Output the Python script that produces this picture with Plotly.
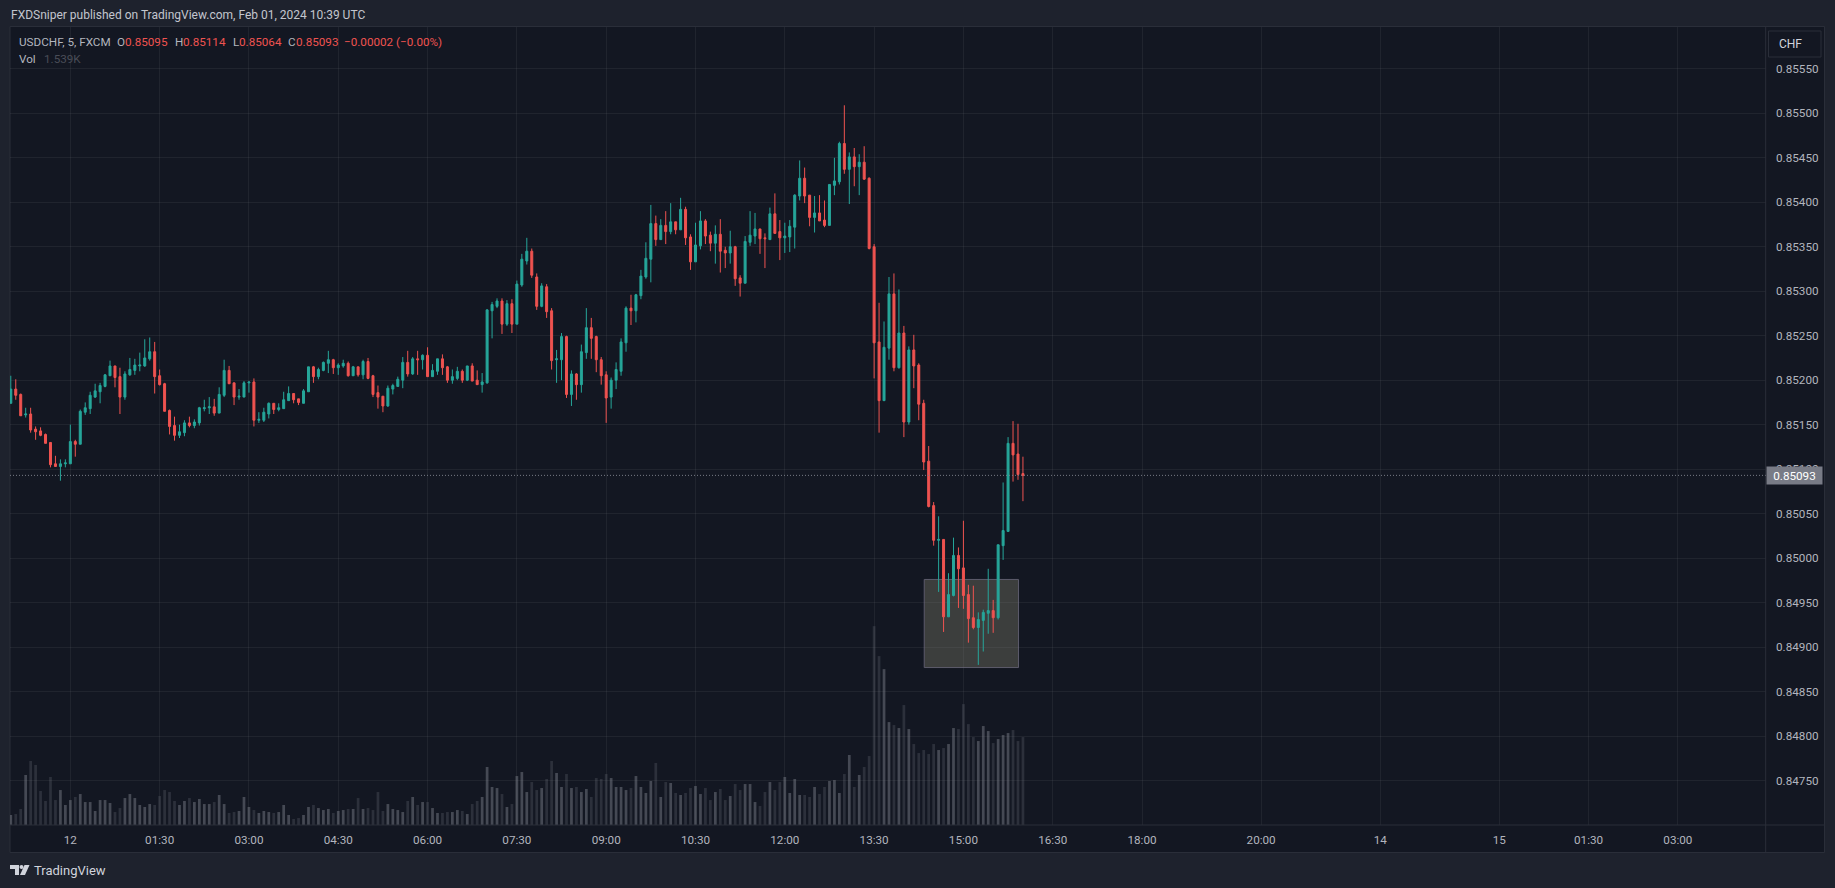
import plotly.graph_objects as go

WIDTH, HEIGHT = 1835, 888

# prices in points (1e-5), one bar every 5 minutes
opens = [
    85174,85190,85184,85161,85162,85145,85143,85139,85130,85106,
    85103,85106,85106,85131,85128,85164,85168,85181,85187,85193,
    85205,85216,85204,85181,85206,85211,85216,85216,85224,85232,
    85205,85196,85166,85149,85138,85141,85152,85149,85152,85168,
    85169,85170,85163,85183,85211,85197,85181,85181,85197,85198,
    85155,85155,85162,85174,85167,85168,85177,85185,85179,85174,
    85187,85215,85204,85211,85219,85223,85214,85216,85219,85205,
    85215,85206,85221,85205,85186,85182,85171,85190,85193,85200,
    85220,85207,85224,85223,85228,85204,85210,85224,85215,85200,
    85202,85210,85200,85216,85200,85195,85197,85278,85283,85289,
    85263,85286,85263,85307,85334,85345,85316,85283,85305,85278,
    85223,85223,85249,85184,85207,85195,85231,85259,85249,85223,
    85206,85181,85200,85210,85242,85281,85278,85295,85316,85336,
    85376,85358,85374,85367,85378,85369,85392,85361,85333,85351,
    85379,85363,85354,85364,85346,85343,85350,85315,85309,85355,
    85362,85370,85360,85358,85387,85367,85360,85361,85372,85407,
    85427,85408,85383,85388,85380,85374,85419,85423,85466,85437,
    85451,85440,85445,85427,85350,85243,85177,85236,85297,85214,
    85253,85153,85234,85217,85174,85109,85059,85020,85021,84934,
    84958,85003,84989,84959,84933,84922,84930,84938,84941,84933,
    85014,85030,85129,85117,85095,
]
highs = [
    85205,85201,85185,85169,85169,85148,85147,85140,85130,85115,
    85111,85111,85150,85133,85167,85175,85187,85196,85197,85207,
    85222,85216,85214,85210,85225,85224,85231,85246,85248,85243,
    85212,85197,85167,85159,85150,85155,85159,85156,85170,85178,
    85181,85179,85192,85223,85216,85197,85190,85199,85198,85202,
    85164,85169,85175,85174,85174,85187,85193,85185,85179,85190,
    85215,85216,85214,85221,85233,85224,85219,85223,85221,85216,
    85215,85223,85225,85206,85194,85182,85194,85196,85204,85226,
    85233,85226,85233,85229,85237,85218,85224,85229,85216,85212,
    85215,85212,85216,85219,85211,85208,85280,85288,85292,85292,
    85290,85291,85312,85342,85360,85348,85320,85309,85308,85281,
    85234,85253,85250,85211,85208,85240,85281,85270,85250,85226,
    85210,85203,85220,85247,85283,85296,85297,85324,85355,85397,
    85385,85381,85390,85399,85378,85405,85395,85364,85377,85390,
    85381,85367,85374,85381,85350,85368,85351,85318,85362,85390,
    85388,85370,85365,85394,85410,85380,85377,85380,85409,85447,
    85439,85408,85407,85408,85402,85420,85450,85468,85509,85456,
    85461,85454,85463,85428,85353,85287,85266,85316,85320,85302,
    85261,85238,85251,85219,85178,85126,85063,85047,85021,84983,
    85023,85012,85042,84970,84969,84939,84942,84988,84953,85015,
    85085,85136,85154,85151,85114,
]
lows = [
    85174,85178,85160,85158,85141,85133,85137,85129,85102,85103,
    85087,85102,85106,85114,85128,85161,85162,85180,85174,85192,
    85205,85192,85162,85178,85205,85206,85210,85215,85222,85185,
    85194,85165,85139,85132,85135,85137,85147,85146,85149,85165,
    85162,85160,85163,85181,85196,85172,85178,85181,85186,85148,
    85152,85153,85157,85162,85165,85168,85177,85174,85172,85174,
    85187,85197,85201,85210,85208,85207,85206,85214,85204,85205,
    85204,85201,85201,85181,85168,85164,85170,85184,85193,85191,
    85204,85206,85206,85212,85204,85204,85206,85206,85197,85196,
    85200,85197,85199,85199,85195,85186,85196,85247,85281,85252,
    85261,85253,85263,85305,85330,85315,85279,85282,85270,85212,
    85197,85200,85180,85171,85178,85186,85224,85224,85209,85195,
    85152,85168,85190,85205,85232,85262,85265,85291,85314,85310,
    85351,85358,85353,85364,85364,85369,85352,85324,85333,85347,
    85353,85345,85331,85321,85326,85331,85306,85294,85309,85351,
    85353,85342,85326,85358,85365,85335,85343,85344,85348,85402,
    85399,85373,85366,85379,85372,85374,85408,85420,85432,85398,
    85418,85408,85425,85347,85202,85141,85177,85223,85210,85213,
    85136,85150,85191,85155,85099,85057,85014,84962,84917,84934,
    84957,84944,84943,84905,84920,84880,84895,84915,84916,84931,
    84998,85030,85086,85088,85064,
]
closes = [
    85190,85183,85160,85162,85144,85142,85138,85129,85105,85103,
    85106,85107,85131,85128,85165,85169,85183,85188,85194,85206,
    85216,85203,85181,85207,85212,85217,85217,85225,85232,85204,
    85195,85165,85148,85138,85142,85152,85149,85153,85169,85169,
    85170,85163,85184,85211,85196,85181,85182,85197,85198,85155,
    85156,85164,85174,85167,85169,85178,85185,85178,85175,85188,
    85215,85204,85212,85220,85223,85214,85217,85219,85205,85215,
    85206,85221,85202,85184,85181,85171,85191,85194,85201,85220,
    85207,85224,85223,85228,85204,85211,85224,85214,85200,85204,
    85210,85200,85216,85199,85195,85198,85279,85285,85289,85263,
    85286,85263,85308,85336,85345,85318,85283,85306,85277,85222,
    85224,85249,85184,85207,85195,85232,85259,85247,85223,85205,
    85180,85200,85212,85243,85281,85278,85296,85317,85337,85376,
    85358,85374,85367,85378,85369,85392,85360,85333,85352,85379,
    85362,85354,85364,85345,85343,85350,85314,85309,85356,85363,
    85370,85359,85359,85387,85365,85360,85362,85373,85408,85427,
    85407,85383,85388,85379,85374,85420,85424,85466,85437,85451,
    85440,85445,85426,85348,85242,85177,85237,85297,85214,85253,
    85153,85234,85216,85173,85108,85058,85020,85021,84934,84959,
    85003,84988,84958,84932,84922,84931,84939,84941,84933,85015,
    85031,85129,85116,85094,85093,
]
volumes = [
    175,192,280,875,1120,1050,595,420,840,437,
    612,350,437,490,542,402,402,245,437,437,
    385,227,297,472,542,472,350,315,367,350,
    507,612,577,420,350,420,472,402,455,367,
    367,402,525,367,210,227,245,490,315,262,
    210,245,227,210,227,350,175,105,122,175,
    315,350,297,262,280,210,245,262,280,280,
    472,280,297,262,577,245,367,280,262,227,
    420,490,350,402,402,297,210,210,227,227,
    262,245,192,367,420,490,1015,665,647,542,
    315,367,857,927,577,752,612,647,805,1120,
    910,665,892,647,665,577,630,490,822,805,
    892,822,665,665,612,647,857,665,560,770,
    1085,490,752,735,560,525,560,647,682,542,
    647,437,577,630,437,507,717,612,717,717,
    402,332,577,752,612,752,840,560,805,525,
    525,490,665,542,665,770,787,560,892,1225,
    665,875,1015,1207,3480,2956,2728,1801,1749,1697,
    2099,1679,1417,1259,1312,1242,1417,1312,1347,1417,
    1697,1679,2116,1766,1539,1469,1732,1644,1434,1504,
    1574,1609,1662,1469,1539,
]
assert len(opens) == len(highs) == len(lows) == len(closes) == len(volumes)

# bar number of each label on the time scale
time_ticks = [12, 30, 48, 66, 84, 102, 120, 138, 156, 174, 192, 210, 228, 252, 276, 300, 318, 336]
time_labels = ["12", "01:30", "03:00", "04:30", "06:00", "07:30", "09:00", "10:30", "12:00",
               "13:30", "15:00", "16:30", "18:00", "20:00", "14", "15", "01:30", "03:00"]
price_ticks = [0.8475, 0.848, 0.8485, 0.849, 0.8495, 0.85, 0.8505, 0.851, 0.8515,
               0.852, 0.8525, 0.853, 0.8535, 0.854, 0.8545, 0.855, 0.8555]
price_labels = [f"{p:.5f}" for p in price_ticks]

# the drawn box: first/last bar, top/bottom price
box_bars = [184.1, 203.1]
box_prices = [0.84976, 0.84877]

UP, DOWN = "#26a69a", "#ef5350"
PANE = "#131722"
PAGE = "#1e222d"
BORDER = "#2a2e39"
GRID = "rgba(120,123,134,0.13)"
FONT = "Roboto"

legend_chunks = [
    (18, "USDCHF, 5, FXCM", "#b2b5be"),
    (116, "O", "#b2b5be"), (124, "0.85095", DOWN),
    (174, "H", "#b2b5be"), (182, "0.85114", DOWN),
    (232, "L", "#b2b5be"), (238, "0.85064", DOWN),
    (287, "C", "#b2b5be"), (295, "0.85093", DOWN),
    (343, "−0.00002 (−0.00%)", DOWN),
]


def px(x):
    return x / WIDTH


def py(y):
    return 1 - y / HEIGHT


def scaled(values):
    return [v / 100000 for v in values]


def paper_path(points):
    return "M" + " L".join(f"{px(x):.5f},{py(y):.5f}" for x, y in points) + " Z"


def label(x, y, text, color, size=11.7, xanchor="left"):
    return dict(xref="paper", yref="paper", x=px(x), y=py(y), text=text, showarrow=False,
                xanchor=xanchor, yanchor="middle", font=dict(family=FONT, size=size, color=color),
                borderpad=0)


bars = list(range(len(opens)))
last_price = closes[-1] / 100000

fig = go.Figure()
fig.add_trace(go.Candlestick(
    x=bars, open=scaled(opens), high=scaled(highs), low=scaled(lows), close=scaled(closes),
    increasing=dict(line=dict(color=UP, width=1), fillcolor=UP),
    decreasing=dict(line=dict(color=DOWN, width=1), fillcolor=DOWN),
    whiskerwidth=0, showlegend=False,
))
fig.add_trace(go.Bar(
    x=bars, y=volumes, yaxis="y2", showlegend=False,
    marker=dict(
        color=["rgba(120,123,134,0.5)" if c >= o else "rgba(120,123,134,0.25)"
               for o, c in zip(opens, closes)],
        line=dict(width=0),
    ),
))

shapes = [
    # chart frame, price scale and time scale
    dict(type="rect", xref="paper", yref="paper", x0=px(10), x1=px(1824.5), y0=py(852.5), y1=py(26.5),
         fillcolor=PANE, line=dict(color=BORDER, width=1), layer="below"),
    dict(type="line", xref="paper", yref="paper", x0=px(1765.7), x1=px(1765.7), y0=py(852.5), y1=py(26.5),
         line=dict(color=BORDER, width=1)),
    dict(type="line", xref="paper", yref="paper", x0=px(10), x1=px(1824.5), y0=py(825), y1=py(825),
         line=dict(color=BORDER, width=1)),
    # last price line
    dict(type="line", xref="x domain", yref="y", x0=0, x1=1, y0=last_price, y1=last_price,
         line=dict(color="#787b86", width=1, dash="1px,2px")),
    # rectangle drawing
    dict(type="rect", xref="x", yref="y", x0=box_bars[0], x1=box_bars[1], y0=box_prices[0], y1=box_prices[1],
         fillcolor="rgba(155,153,125,0.3)", line=dict(color="#5c5b6b", width=1), layer="below"),
    # CHF button
    dict(type="rect", xref="paper", yref="paper", x0=px(1768.5), x1=px(1821), y0=py(57), y1=py(31),
         fillcolor=PANE, line=dict(color=BORDER, width=1)),
    # TradingView logo
    dict(type="path", xref="paper", yref="paper", fillcolor="#d1d4dc", line=dict(width=0),
         path=paper_path([(10, 865), (19, 865), (19, 875), (15, 875), (15, 869), (10, 869)])),
    dict(type="path", xref="paper", yref="paper", fillcolor="#d1d4dc", line=dict(width=0),
         path=paper_path([(24.5, 865), (29.5, 865), (25, 875), (20, 875)])),
    dict(type="circle", xref="paper", yref="paper", x0=px(19.5), x1=px(23.5), y0=py(869), y1=py(865),
         fillcolor="#d1d4dc", line=dict(width=0)),
]

annotations = [
    label(10, 15, "FXDSniper published on TradingView.com, Feb 01, 2024 10:39 UTC", "#c3c6ce", 12),
    label(18, 59, "Vol", "#b2b5be"),
    label(42.5, 59, "1.539K", "#4a4d57"),
    label(1777.5, 44.5, "CHF", "#d1d4dc", 12),
    label(33, 870, "TradingView", "#d1d4dc", 13),
    dict(xref="paper", yref="y", x=px(1765.5), y=last_price, text=f"{last_price:.5f}", showarrow=False,
         xanchor="left", yanchor="middle", bgcolor="#787b86", width=55, height=17, borderpad=0,
         align="center", font=dict(family=FONT, size=11.7, color="#ffffff")),
]
for x, text, color in legend_chunks:
    annotations.append(label(x, 42, text, color))

fig.update_layout(
    width=WIDTH,
    height=HEIGHT,
    margin=dict(l=0, r=0, t=0, b=0),
    paper_bgcolor=PAGE,
    plot_bgcolor="rgba(0,0,0,0)",
    font=dict(family=FONT, size=11.7, color="#b2b5be"),
    boxgap=0.6,
    boxgroupgap=0,
    bargap=0.45,
    shapes=shapes,
    annotations=annotations,
    xaxis=dict(
        domain=[px(10), px(1765.7)],
        range=[-0.16, 353.7],
        rangeslider=dict(visible=False),
        tickmode="array",
        tickvals=time_ticks,
        ticktext=time_labels,
        showgrid=True,
        gridcolor=GRID,
        gridwidth=1,
        zeroline=False,
        ticks="outside",
        ticklen=4,
        tickcolor=PANE,
    ),
    yaxis=dict(
        domain=[py(825), py(27)],
        range=[0.84700, 0.85597],
        side="right",
        tickmode="array",
        tickvals=price_ticks,
        ticktext=price_labels,
        showgrid=True,
        gridcolor=GRID,
        gridwidth=1,
        zeroline=False,
        ticks="outside",
        ticklen=7,
        tickcolor=PANE,
    ),
    yaxis2=dict(
        domain=[py(825), py(27)],
        range=[0, 13965],
        overlaying="y",
        visible=False,
    ),
)

fig.write_html("out.html", config={"displayModeBar": False},
               post_script="document.body.style.margin='0';document.body.style.background='#1e222d';")
